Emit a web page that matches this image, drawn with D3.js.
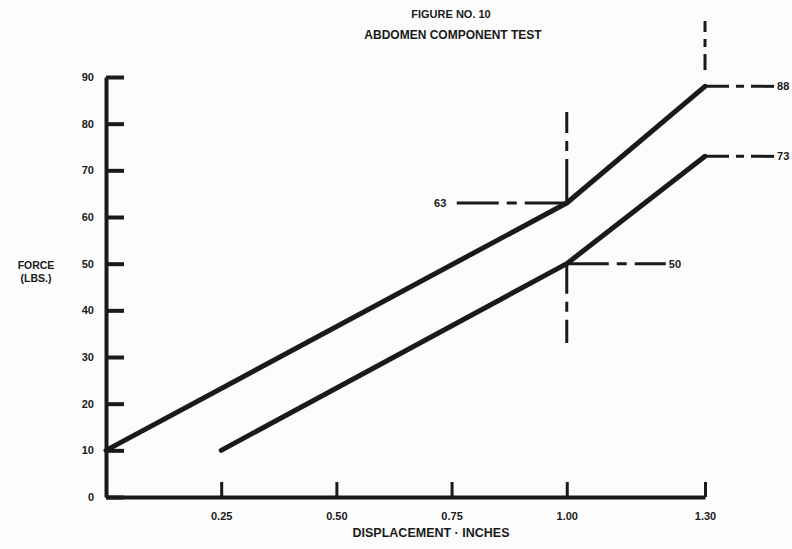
<!DOCTYPE html>
<html>
<head>
<meta charset="utf-8">
<script src="https://cdn.jsdelivr.net/npm/d3@7"></script>
<style>
  html, body { margin: 0; padding: 0; background: #fcfcfc; }
  svg { display: block; }
  text { font-family: "Liberation Sans", Arial, Helvetica, sans-serif; font-weight: bold; fill: #1a1a1a; }
</style>
</head>
<body>
<script>
// ---- data ----
const titleLines = ["FIGURE NO. 10", "ABDOMEN COMPONENT TEST"];
const xAxisTitle = "DISPLACEMENT · INCHES";
const yAxisTitle = ["FORCE", "(LBS.)"];

const xTicks = [0.25, 0.50, 0.75, 1.00, 1.30];
const xTickLabels = ["0.25", "0.50", "0.75", "1.00", "1.30"];
const yTicks = [0, 10, 20, 30, 40, 50, 60, 70, 80, 90];

// upper boundary curve
const upperDisp = [0, 1.00, 1.30];
const upperForce = [10, 63, 88];
// lower boundary curve
const lowerDisp = [0.25, 1.00, 1.30];
const lowerForce = [10, 50, 73];

// reference (dash-dot) annotation lines: [x1, y1, x2, y2] in data units
const refLines = [
  [1.00, 63, 0.745, 63],
  [1.00, 50, 1.215, 50],
  [1.30, 88, 1.45, 88],
  [1.30, 73, 1.45, 73],
  [1.00, 63, 1.00, 82.5],
  [1.00, 50, 1.00, 33],
  [1.30, 91.5, 1.30, 102]
];
// annotation labels: [x, y, text, side]
const refLabels = [
  [0.745, 63, "63", "left"],
  [1.215, 50, "50", "right"],
  [1.45, 88, "88", "right"],
  [1.45, 73, "73", "right"]
];

// ---- drawing ----
const W = 792, H = 549;
const svg = d3.select("body").append("svg").attr("width", W).attr("height", H);

const x = d3.scaleLinear().domain([0, 1.3]).range([106, 705]);
const y = d3.scaleLinear().domain([0, 90]).range([497, 77]);
const ink = "#1a1a1a";
const dashStyles = ["42,8,10,8", "42,8,10,8", "24,7,8,7", "24,7,8,7", "44,8,10,8", "30,8,10,8", "16,7,8,7"];

// titles
svg.append("text").attr("x", 451).attr("y", 18).attr("text-anchor", "middle")
  .style("font-size", "11px").text(titleLines[0]);
svg.append("text").attr("x", 453).attr("y", 39).attr("text-anchor", "middle")
  .style("font-size", "12px").text(titleLines[1]);

// y axis
const yAxis = d3.axisLeft(y).tickValues(yTicks).tickSize(-18).tickSizeOuter(0).tickPadding(12);
const gy = svg.append("g").attr("transform", `translate(${x(0)},0)`).call(yAxis);
gy.select(".domain").attr("stroke", ink).attr("stroke-width", 4);
gy.selectAll(".tick line").attr("stroke", ink).attr("stroke-width", 4);
gy.selectAll(".tick text").style("font-size", "11px").attr("fill", ink);

// x axis
const xAxis = d3.axisBottom(x).tickValues(xTicks).tickSize(-15).tickSizeOuter(0).tickPadding(15)
  .tickFormat((d, i) => xTickLabels[i]);
const gx = svg.append("g").attr("transform", `translate(0,${y(0)})`).call(xAxis);
gx.select(".domain").attr("stroke", ink).attr("stroke-width", 4);
gx.selectAll(".tick line").attr("stroke", ink).attr("stroke-width", 3);
gx.selectAll(".tick text").style("font-size", "11px").attr("fill", ink);

// axis titles
svg.append("text").attr("x", 431).attr("y", 537).attr("text-anchor", "middle")
  .style("font-size", "12.5px").text(xAxisTitle);
svg.append("text").attr("x", 36).attr("y", 269).attr("text-anchor", "middle")
  .style("font-size", "10.5px").text(yAxisTitle[0]);
svg.append("text").attr("x", 36).attr("y", 282).attr("text-anchor", "middle")
  .style("font-size", "10.5px").text(yAxisTitle[1]);

// reference dash-dot lines
svg.append("g").selectAll("line").data(refLines).join("line")
  .attr("x1", d => x(d[0])).attr("y1", d => y(d[1]))
  .attr("x2", d => x(d[2])).attr("y2", d => y(d[3]))
  .attr("stroke", ink).attr("stroke-width", 3)
  .attr("stroke-dasharray", (d, i) => dashStyles[i]);

svg.append("g").selectAll("text").data(refLabels).join("text")
  .attr("x", d => x(d[0]) + (d[3] === "left" ? -3 : 3))
  .attr("y", d => y(d[1]))
  .attr("dy", "0.36em")
  .attr("text-anchor", d => d[3] === "left" ? "end" : "start")
  .style("font-size", "11px")
  .text(d => d[2]);

// curves
const line = d3.line().x(d => x(d[0])).y(d => y(d[1]));
const curves = [
  d3.zip(upperDisp, upperForce),
  d3.zip(lowerDisp, lowerForce)
];
svg.append("g").selectAll("path").data(curves).join("path")
  .attr("d", line)
  .attr("fill", "none").attr("stroke", ink).attr("stroke-width", 5)
  .attr("stroke-linejoin", "round").attr("stroke-linecap", "round");
</script>
</body>
</html>
